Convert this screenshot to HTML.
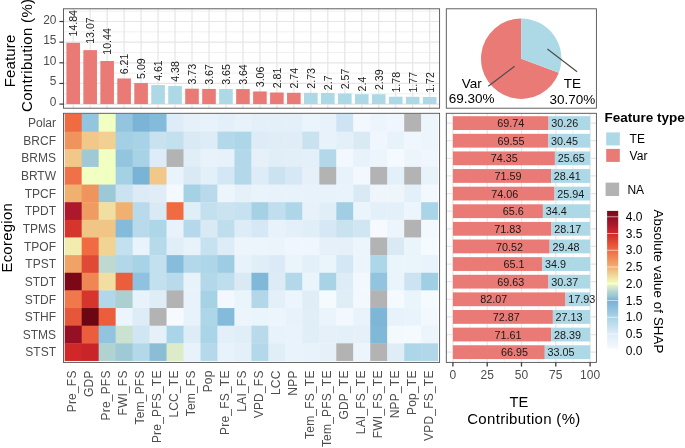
<!DOCTYPE html>
<html lang="en">
<head>
<meta charset="utf-8">
<title>Feature contribution by ecoregion</title>
<style>
html,body{margin:0;padding:0;background:#fff;}
body{width:685px;height:448px;overflow:hidden;font-family:"Liberation Sans", Arial, Helvetica, sans-serif;}
svg{display:block;}
</style>
</head>
<body>
<svg width="685" height="448" viewBox="0 0 685 448" font-family='"Liberation Sans", Arial, Helvetica, sans-serif'>
<rect width="685" height="448" fill="#ffffff"/>
<g id="barpanel">
<rect x="63.5" y="8.8" width="376.1" height="99.4" fill="#fff"/>
<line x1="63.5" x2="439.6" y1="93.77" y2="93.77" stroke="#e9e9e9" stroke-width="0.7"/>
<line x1="63.5" x2="439.6" y1="73.12" y2="73.12" stroke="#e9e9e9" stroke-width="0.7"/>
<line x1="63.5" x2="439.6" y1="52.47" y2="52.47" stroke="#e9e9e9" stroke-width="0.7"/>
<line x1="63.5" x2="439.6" y1="31.83" y2="31.83" stroke="#e9e9e9" stroke-width="0.7"/>
<line x1="63.5" x2="439.6" y1="11.17" y2="11.17" stroke="#e9e9e9" stroke-width="0.7"/>
<line x1="63.5" x2="439.6" y1="104.1" y2="104.1" stroke="#e6e6e6" stroke-width="1.2"/>
<line x1="63.5" x2="439.6" y1="83.45" y2="83.45" stroke="#e6e6e6" stroke-width="1.2"/>
<line x1="63.5" x2="439.6" y1="62.8" y2="62.8" stroke="#e6e6e6" stroke-width="1.2"/>
<line x1="63.5" x2="439.6" y1="42.15" y2="42.15" stroke="#e6e6e6" stroke-width="1.2"/>
<line x1="63.5" x2="439.6" y1="21.5" y2="21.5" stroke="#e6e6e6" stroke-width="1.2"/>
<line x1="73.19" x2="73.19" y1="8.8" y2="108.2" stroke="#e6e6e6" stroke-width="1.2"/>
<line x1="90.16" x2="90.16" y1="8.8" y2="108.2" stroke="#e6e6e6" stroke-width="1.2"/>
<line x1="107.14" x2="107.14" y1="8.8" y2="108.2" stroke="#e6e6e6" stroke-width="1.2"/>
<line x1="124.11" x2="124.11" y1="8.8" y2="108.2" stroke="#e6e6e6" stroke-width="1.2"/>
<line x1="141.09" x2="141.09" y1="8.8" y2="108.2" stroke="#e6e6e6" stroke-width="1.2"/>
<line x1="158.06" x2="158.06" y1="8.8" y2="108.2" stroke="#e6e6e6" stroke-width="1.2"/>
<line x1="175.04" x2="175.04" y1="8.8" y2="108.2" stroke="#e6e6e6" stroke-width="1.2"/>
<line x1="192.01" x2="192.01" y1="8.8" y2="108.2" stroke="#e6e6e6" stroke-width="1.2"/>
<line x1="208.99" x2="208.99" y1="8.8" y2="108.2" stroke="#e6e6e6" stroke-width="1.2"/>
<line x1="225.96" x2="225.96" y1="8.8" y2="108.2" stroke="#e6e6e6" stroke-width="1.2"/>
<line x1="242.94" x2="242.94" y1="8.8" y2="108.2" stroke="#e6e6e6" stroke-width="1.2"/>
<line x1="259.91" x2="259.91" y1="8.8" y2="108.2" stroke="#e6e6e6" stroke-width="1.2"/>
<line x1="276.89" x2="276.89" y1="8.8" y2="108.2" stroke="#e6e6e6" stroke-width="1.2"/>
<line x1="293.86" x2="293.86" y1="8.8" y2="108.2" stroke="#e6e6e6" stroke-width="1.2"/>
<line x1="310.84" x2="310.84" y1="8.8" y2="108.2" stroke="#e6e6e6" stroke-width="1.2"/>
<line x1="327.81" x2="327.81" y1="8.8" y2="108.2" stroke="#e6e6e6" stroke-width="1.2"/>
<line x1="344.79" x2="344.79" y1="8.8" y2="108.2" stroke="#e6e6e6" stroke-width="1.2"/>
<line x1="361.76" x2="361.76" y1="8.8" y2="108.2" stroke="#e6e6e6" stroke-width="1.2"/>
<line x1="378.74" x2="378.74" y1="8.8" y2="108.2" stroke="#e6e6e6" stroke-width="1.2"/>
<line x1="395.71" x2="395.71" y1="8.8" y2="108.2" stroke="#e6e6e6" stroke-width="1.2"/>
<line x1="412.69" x2="412.69" y1="8.8" y2="108.2" stroke="#e6e6e6" stroke-width="1.2"/>
<line x1="429.66" x2="429.66" y1="8.8" y2="108.2" stroke="#e6e6e6" stroke-width="1.2"/>
<rect x="66.39" y="42.81" width="13.6" height="61.29" fill="#ea7a75"/>
<rect x="83.36" y="50.12" width="13.6" height="53.98" fill="#ea7a75"/>
<rect x="100.34" y="60.98" width="13.6" height="43.12" fill="#ea7a75"/>
<rect x="117.31" y="78.45" width="13.6" height="25.65" fill="#ea7a75"/>
<rect x="134.29" y="83.08" width="13.6" height="21.02" fill="#ea7a75"/>
<rect x="151.26" y="85.06" width="13.6" height="19.04" fill="#add8e6"/>
<rect x="168.24" y="86.01" width="13.6" height="18.09" fill="#add8e6"/>
<rect x="185.21" y="88.7" width="13.6" height="15.4" fill="#ea7a75"/>
<rect x="202.19" y="88.94" width="13.6" height="15.16" fill="#ea7a75"/>
<rect x="219.16" y="89.03" width="13.6" height="15.07" fill="#add8e6"/>
<rect x="236.14" y="89.07" width="13.6" height="15.03" fill="#ea7a75"/>
<rect x="253.11" y="91.46" width="13.6" height="12.64" fill="#ea7a75"/>
<rect x="270.09" y="92.49" width="13.6" height="11.61" fill="#ea7a75"/>
<rect x="287.06" y="92.78" width="13.6" height="11.32" fill="#ea7a75"/>
<rect x="304.04" y="92.83" width="13.6" height="11.27" fill="#add8e6"/>
<rect x="321.01" y="92.95" width="13.6" height="11.15" fill="#add8e6"/>
<rect x="337.99" y="93.49" width="13.6" height="10.61" fill="#add8e6"/>
<rect x="354.96" y="94.19" width="13.6" height="9.91" fill="#add8e6"/>
<rect x="371.94" y="94.23" width="13.6" height="9.87" fill="#add8e6"/>
<rect x="388.91" y="96.75" width="13.6" height="7.35" fill="#add8e6"/>
<rect x="405.89" y="96.79" width="13.6" height="7.31" fill="#add8e6"/>
<rect x="422.86" y="97" width="13.6" height="7.1" fill="#add8e6"/>
<text transform="translate(77.39,36.51) rotate(-90)" font-size="10.6" fill="#1a1a1a">14.84</text>
<text transform="translate(94.36,43.82) rotate(-90)" font-size="10.6" fill="#1a1a1a">13.07</text>
<text transform="translate(111.34,54.68) rotate(-90)" font-size="10.6" fill="#1a1a1a">10.44</text>
<text transform="translate(128.31,74.25) rotate(-90)" font-size="10.6" fill="#1a1a1a">6.21</text>
<text transform="translate(145.29,78.88) rotate(-90)" font-size="10.6" fill="#1a1a1a">5.09</text>
<text transform="translate(162.26,80.86) rotate(-90)" font-size="10.6" fill="#1a1a1a">4.61</text>
<text transform="translate(179.24,81.81) rotate(-90)" font-size="10.6" fill="#1a1a1a">4.38</text>
<text transform="translate(196.21,84.5) rotate(-90)" font-size="10.6" fill="#1a1a1a">3.73</text>
<text transform="translate(213.19,84.74) rotate(-90)" font-size="10.6" fill="#1a1a1a">3.67</text>
<text transform="translate(230.16,84.83) rotate(-90)" font-size="10.6" fill="#1a1a1a">3.65</text>
<text transform="translate(247.14,84.87) rotate(-90)" font-size="10.6" fill="#1a1a1a">3.64</text>
<text transform="translate(264.11,87.26) rotate(-90)" font-size="10.6" fill="#1a1a1a">3.06</text>
<text transform="translate(281.09,88.29) rotate(-90)" font-size="10.6" fill="#1a1a1a">2.81</text>
<text transform="translate(298.06,88.58) rotate(-90)" font-size="10.6" fill="#1a1a1a">2.74</text>
<text transform="translate(315.04,88.63) rotate(-90)" font-size="10.6" fill="#1a1a1a">2.73</text>
<text transform="translate(332.01,90.15) rotate(-90)" font-size="10.6" fill="#1a1a1a">2.7</text>
<text transform="translate(348.99,89.29) rotate(-90)" font-size="10.6" fill="#1a1a1a">2.57</text>
<text transform="translate(365.96,91.39) rotate(-90)" font-size="10.6" fill="#1a1a1a">2.4</text>
<text transform="translate(382.94,90.03) rotate(-90)" font-size="10.6" fill="#1a1a1a">2.39</text>
<text transform="translate(399.91,92.55) rotate(-90)" font-size="10.6" fill="#1a1a1a">1.78</text>
<text transform="translate(416.89,92.59) rotate(-90)" font-size="10.6" fill="#1a1a1a">1.77</text>
<text transform="translate(433.86,92.8) rotate(-90)" font-size="10.6" fill="#1a1a1a">1.72</text>
<rect x="63.5" y="8.8" width="376.1" height="99.4" fill="none" stroke="#505050" stroke-width="0.9"/>
<line x1="59.4" x2="63.5" y1="104.1" y2="104.1" stroke="#3a3a3a" stroke-width="1.2"/>
<text x="56.4" y="106.1" font-size="11.9" fill="#4d4d4d" text-anchor="end">0</text>
<line x1="59.4" x2="63.5" y1="83.45" y2="83.45" stroke="#3a3a3a" stroke-width="1.2"/>
<text x="56.4" y="85.45" font-size="11.9" fill="#4d4d4d" text-anchor="end">5</text>
<line x1="59.4" x2="63.5" y1="62.8" y2="62.8" stroke="#3a3a3a" stroke-width="1.2"/>
<text x="56.4" y="64.8" font-size="11.9" fill="#4d4d4d" text-anchor="end">10</text>
<line x1="59.4" x2="63.5" y1="42.15" y2="42.15" stroke="#3a3a3a" stroke-width="1.2"/>
<text x="56.4" y="44.15" font-size="11.9" fill="#4d4d4d" text-anchor="end">15</text>
<line x1="59.4" x2="63.5" y1="21.5" y2="21.5" stroke="#3a3a3a" stroke-width="1.2"/>
<text x="56.4" y="23.5" font-size="11.9" fill="#4d4d4d" text-anchor="end">20</text>
<text transform="translate(14.7,87.2) rotate(-90)" font-size="15" fill="#000" textLength="52.5" lengthAdjust="spacing">Feature</text>
<text transform="translate(31.5,112) rotate(-90)" font-size="15" fill="#000" textLength="113.1" lengthAdjust="spacing">Contribution (%)</text>
</g>
<g id="heatmap">
<rect x="63.5" y="113.3" width="376.1" height="249.1" fill="#fff"/>
<g>
<rect x="64.7" y="114" width="17.38" height="18.04" fill="#f06a42"/>
<rect x="81.68" y="114" width="17.38" height="18.04" fill="#94c5df"/>
<rect x="98.65" y="114" width="17.38" height="18.04" fill="#f2ffc2"/>
<rect x="115.62" y="114" width="17.38" height="18.04" fill="#94c5df"/>
<rect x="132.6" y="114" width="17.38" height="18.04" fill="#7bb4d7"/>
<rect x="149.57" y="114" width="17.38" height="18.04" fill="#85bbda"/>
<rect x="166.55" y="114" width="17.38" height="18.04" fill="#deecf7"/>
<rect x="183.53" y="114" width="17.38" height="18.04" fill="#e6f0f9"/>
<rect x="200.5" y="114" width="17.38" height="18.04" fill="#e8f2fa"/>
<rect x="217.48" y="114" width="17.38" height="18.04" fill="#e3eff9"/>
<rect x="234.45" y="114" width="17.38" height="18.04" fill="#e8f2fa"/>
<rect x="251.43" y="114" width="17.38" height="18.04" fill="#e3eff9"/>
<rect x="268.4" y="114" width="17.38" height="18.04" fill="#e3eff9"/>
<rect x="285.38" y="114" width="17.38" height="18.04" fill="#e3eff9"/>
<rect x="302.35" y="114" width="17.38" height="18.04" fill="#eaf4fb"/>
<rect x="319.33" y="114" width="17.38" height="18.04" fill="#e8f2fa"/>
<rect x="336.3" y="114" width="17.38" height="18.04" fill="#cee4f2"/>
<rect x="353.28" y="114" width="17.38" height="18.04" fill="#f2f8fd"/>
<rect x="370.25" y="114" width="17.38" height="18.04" fill="#edf5fc"/>
<rect x="387.23" y="114" width="17.38" height="18.04" fill="#f0f6fd"/>
<rect x="404.2" y="114" width="17.38" height="18.04" fill="#b3b3b3"/>
<rect x="421.18" y="114" width="16.98" height="18.04" fill="#edf5fc"/>
<rect x="64.7" y="131.64" width="17.38" height="18.04" fill="#f0945e"/>
<rect x="81.68" y="131.64" width="17.38" height="18.04" fill="#f1c889"/>
<rect x="98.65" y="131.64" width="17.38" height="18.04" fill="#f1d091"/>
<rect x="115.62" y="131.64" width="17.38" height="18.04" fill="#a3d0e4"/>
<rect x="132.6" y="131.64" width="17.38" height="18.04" fill="#a8d3e6"/>
<rect x="149.57" y="131.64" width="17.38" height="18.04" fill="#c8e2f0"/>
<rect x="166.55" y="131.64" width="17.38" height="18.04" fill="#c3e0ee"/>
<rect x="183.53" y="131.64" width="17.38" height="18.04" fill="#d9eaf5"/>
<rect x="200.5" y="131.64" width="17.38" height="18.04" fill="#deecf7"/>
<rect x="217.48" y="131.64" width="17.38" height="18.04" fill="#b3d8e9"/>
<rect x="234.45" y="131.64" width="17.38" height="18.04" fill="#add6e8"/>
<rect x="251.43" y="131.64" width="17.38" height="18.04" fill="#deecf7"/>
<rect x="268.4" y="131.64" width="17.38" height="18.04" fill="#dfedf7"/>
<rect x="285.38" y="131.64" width="17.38" height="18.04" fill="#e0edf7"/>
<rect x="302.35" y="131.64" width="17.38" height="18.04" fill="#c8e2f0"/>
<rect x="319.33" y="131.64" width="17.38" height="18.04" fill="#e8f2fa"/>
<rect x="336.3" y="131.64" width="17.38" height="18.04" fill="#e3eff9"/>
<rect x="353.28" y="131.64" width="17.38" height="18.04" fill="#d9eaf5"/>
<rect x="370.25" y="131.64" width="17.38" height="18.04" fill="#f0f6fd"/>
<rect x="387.23" y="131.64" width="17.38" height="18.04" fill="#e8f2fa"/>
<rect x="404.2" y="131.64" width="17.38" height="18.04" fill="#f0f6fd"/>
<rect x="421.18" y="131.64" width="16.98" height="18.04" fill="#edf5fc"/>
<rect x="64.7" y="149.28" width="17.38" height="18.04" fill="#f1c889"/>
<rect x="81.68" y="149.28" width="17.38" height="18.04" fill="#9fc9d4"/>
<rect x="98.65" y="149.28" width="17.38" height="18.04" fill="#f2ffc2"/>
<rect x="115.62" y="149.28" width="17.38" height="18.04" fill="#94c5df"/>
<rect x="132.6" y="149.28" width="17.38" height="18.04" fill="#a8d3e6"/>
<rect x="149.57" y="149.28" width="17.38" height="18.04" fill="#deecf7"/>
<rect x="166.55" y="149.28" width="17.38" height="18.04" fill="#b3b3b3"/>
<rect x="183.53" y="149.28" width="17.38" height="18.04" fill="#e0eef8"/>
<rect x="200.5" y="149.28" width="17.38" height="18.04" fill="#e8f2fa"/>
<rect x="217.48" y="149.28" width="17.38" height="18.04" fill="#e6f1fa"/>
<rect x="234.45" y="149.28" width="17.38" height="18.04" fill="#b3d8e9"/>
<rect x="251.43" y="149.28" width="17.38" height="18.04" fill="#e6f0f9"/>
<rect x="268.4" y="149.28" width="17.38" height="18.04" fill="#e0eef8"/>
<rect x="285.38" y="149.28" width="17.38" height="18.04" fill="#e2eef8"/>
<rect x="302.35" y="149.28" width="17.38" height="18.04" fill="#e3eff9"/>
<rect x="319.33" y="149.28" width="17.38" height="18.04" fill="#b3d8e9"/>
<rect x="336.3" y="149.28" width="17.38" height="18.04" fill="#f2f8fd"/>
<rect x="353.28" y="149.28" width="17.38" height="18.04" fill="#e8f2fa"/>
<rect x="370.25" y="149.28" width="17.38" height="18.04" fill="#edf5fc"/>
<rect x="387.23" y="149.28" width="17.38" height="18.04" fill="#f4fafe"/>
<rect x="404.2" y="149.28" width="17.38" height="18.04" fill="#edf5fc"/>
<rect x="421.18" y="149.28" width="16.98" height="18.04" fill="#f0f6fd"/>
<rect x="64.7" y="166.92" width="17.38" height="18.04" fill="#f07147"/>
<rect x="81.68" y="166.92" width="17.38" height="18.04" fill="#f2ffc2"/>
<rect x="98.65" y="166.92" width="17.38" height="18.04" fill="#f2ffc2"/>
<rect x="115.62" y="166.92" width="17.38" height="18.04" fill="#a5d1e5"/>
<rect x="132.6" y="166.92" width="17.38" height="18.04" fill="#79b3d6"/>
<rect x="149.57" y="166.92" width="17.38" height="18.04" fill="#f1c889"/>
<rect x="166.55" y="166.92" width="17.38" height="18.04" fill="#e9f3fb"/>
<rect x="183.53" y="166.92" width="17.38" height="18.04" fill="#d9eaf5"/>
<rect x="200.5" y="166.92" width="17.38" height="18.04" fill="#e3eff9"/>
<rect x="217.48" y="166.92" width="17.38" height="18.04" fill="#d3e7f4"/>
<rect x="234.45" y="166.92" width="17.38" height="18.04" fill="#b3d8e9"/>
<rect x="251.43" y="166.92" width="17.38" height="18.04" fill="#deecf7"/>
<rect x="268.4" y="166.92" width="17.38" height="18.04" fill="#cbe3f1"/>
<rect x="285.38" y="166.92" width="17.38" height="18.04" fill="#d6e8f5"/>
<rect x="302.35" y="166.92" width="17.38" height="18.04" fill="#e6f0f9"/>
<rect x="319.33" y="166.92" width="17.38" height="18.04" fill="#b3b3b3"/>
<rect x="336.3" y="166.92" width="17.38" height="18.04" fill="#e8f2fa"/>
<rect x="353.28" y="166.92" width="17.38" height="18.04" fill="#f2f8fd"/>
<rect x="370.25" y="166.92" width="17.38" height="18.04" fill="#b3b3b3"/>
<rect x="387.23" y="166.92" width="17.38" height="18.04" fill="#e3eff9"/>
<rect x="404.2" y="166.92" width="17.38" height="18.04" fill="#b3b3b3"/>
<rect x="421.18" y="166.92" width="16.98" height="18.04" fill="#e8f2fa"/>
<rect x="64.7" y="184.56" width="17.38" height="18.04" fill="#f0b070"/>
<rect x="81.68" y="184.56" width="17.38" height="18.04" fill="#f0945e"/>
<rect x="98.65" y="184.56" width="17.38" height="18.04" fill="#9dc8d5"/>
<rect x="115.62" y="184.56" width="17.38" height="18.04" fill="#cbe3f1"/>
<rect x="132.6" y="184.56" width="17.38" height="18.04" fill="#dcebf6"/>
<rect x="149.57" y="184.56" width="17.38" height="18.04" fill="#e0edf7"/>
<rect x="166.55" y="184.56" width="17.38" height="18.04" fill="#f3f9fe"/>
<rect x="183.53" y="184.56" width="17.38" height="18.04" fill="#a5d1e5"/>
<rect x="200.5" y="184.56" width="17.38" height="18.04" fill="#b8daeb"/>
<rect x="217.48" y="184.56" width="17.38" height="18.04" fill="#edf5fc"/>
<rect x="234.45" y="184.56" width="17.38" height="18.04" fill="#e6f0f9"/>
<rect x="251.43" y="184.56" width="17.38" height="18.04" fill="#e9f3fb"/>
<rect x="268.4" y="184.56" width="17.38" height="18.04" fill="#e8f2fa"/>
<rect x="285.38" y="184.56" width="17.38" height="18.04" fill="#e8f2fa"/>
<rect x="302.35" y="184.56" width="17.38" height="18.04" fill="#e8f2fa"/>
<rect x="319.33" y="184.56" width="17.38" height="18.04" fill="#e8f2fa"/>
<rect x="336.3" y="184.56" width="17.38" height="18.04" fill="#e9f3fb"/>
<rect x="353.28" y="184.56" width="17.38" height="18.04" fill="#d9eaf5"/>
<rect x="370.25" y="184.56" width="17.38" height="18.04" fill="#eef6fc"/>
<rect x="387.23" y="184.56" width="17.38" height="18.04" fill="#eef6fc"/>
<rect x="404.2" y="184.56" width="17.38" height="18.04" fill="#e3eff9"/>
<rect x="421.18" y="184.56" width="16.98" height="18.04" fill="#f2f8fd"/>
<rect x="64.7" y="202.2" width="17.38" height="18.04" fill="#ad182c"/>
<rect x="81.68" y="202.2" width="17.38" height="18.04" fill="#f09b62"/>
<rect x="98.65" y="202.2" width="17.38" height="18.04" fill="#f1dfa1"/>
<rect x="115.62" y="202.2" width="17.38" height="18.04" fill="#f0b070"/>
<rect x="132.6" y="202.2" width="17.38" height="18.04" fill="#b8daeb"/>
<rect x="149.57" y="202.2" width="17.38" height="18.04" fill="#d9eaf5"/>
<rect x="166.55" y="202.2" width="17.38" height="18.04" fill="#f06a42"/>
<rect x="183.53" y="202.2" width="17.38" height="18.04" fill="#e0eef8"/>
<rect x="200.5" y="202.2" width="17.38" height="18.04" fill="#c3e0ee"/>
<rect x="217.48" y="202.2" width="17.38" height="18.04" fill="#cbe3f1"/>
<rect x="234.45" y="202.2" width="17.38" height="18.04" fill="#c6e1f0"/>
<rect x="251.43" y="202.2" width="17.38" height="18.04" fill="#a5d1e5"/>
<rect x="268.4" y="202.2" width="17.38" height="18.04" fill="#c1deee"/>
<rect x="285.38" y="202.2" width="17.38" height="18.04" fill="#add6e8"/>
<rect x="302.35" y="202.2" width="17.38" height="18.04" fill="#e7f1fa"/>
<rect x="319.33" y="202.2" width="17.38" height="18.04" fill="#e0eef8"/>
<rect x="336.3" y="202.2" width="17.38" height="18.04" fill="#a1cee4"/>
<rect x="353.28" y="202.2" width="17.38" height="18.04" fill="#eaf4fb"/>
<rect x="370.25" y="202.2" width="17.38" height="18.04" fill="#e3eff9"/>
<rect x="387.23" y="202.2" width="17.38" height="18.04" fill="#e4f0f9"/>
<rect x="404.2" y="202.2" width="17.38" height="18.04" fill="#edf5fc"/>
<rect x="421.18" y="202.2" width="16.98" height="18.04" fill="#aad4e7"/>
<rect x="64.7" y="219.84" width="17.38" height="18.04" fill="#d6352d"/>
<rect x="81.68" y="219.84" width="17.38" height="18.04" fill="#f1c585"/>
<rect x="98.65" y="219.84" width="17.38" height="18.04" fill="#f1c585"/>
<rect x="115.62" y="219.84" width="17.38" height="18.04" fill="#85bbda"/>
<rect x="132.6" y="219.84" width="17.38" height="18.04" fill="#b8daeb"/>
<rect x="149.57" y="219.84" width="17.38" height="18.04" fill="#add6e8"/>
<rect x="166.55" y="219.84" width="17.38" height="18.04" fill="#e8f2fa"/>
<rect x="183.53" y="219.84" width="17.38" height="18.04" fill="#b5d9ea"/>
<rect x="200.5" y="219.84" width="17.38" height="18.04" fill="#d9eaf5"/>
<rect x="217.48" y="219.84" width="17.38" height="18.04" fill="#bedded"/>
<rect x="234.45" y="219.84" width="17.38" height="18.04" fill="#deecf7"/>
<rect x="251.43" y="219.84" width="17.38" height="18.04" fill="#d6e8f5"/>
<rect x="268.4" y="219.84" width="17.38" height="18.04" fill="#e8f2fa"/>
<rect x="285.38" y="219.84" width="17.38" height="18.04" fill="#e3eff9"/>
<rect x="302.35" y="219.84" width="17.38" height="18.04" fill="#e0eef8"/>
<rect x="319.33" y="219.84" width="17.38" height="18.04" fill="#d6e8f5"/>
<rect x="336.3" y="219.84" width="17.38" height="18.04" fill="#c8e2f0"/>
<rect x="353.28" y="219.84" width="17.38" height="18.04" fill="#d0e6f3"/>
<rect x="370.25" y="219.84" width="17.38" height="18.04" fill="#f6faff"/>
<rect x="387.23" y="219.84" width="17.38" height="18.04" fill="#edf5fc"/>
<rect x="404.2" y="219.84" width="17.38" height="18.04" fill="#b3b3b3"/>
<rect x="421.18" y="219.84" width="16.98" height="18.04" fill="#f2f8fd"/>
<rect x="64.7" y="237.48" width="17.38" height="18.04" fill="#f2ecae"/>
<rect x="81.68" y="237.48" width="17.38" height="18.04" fill="#f06a42"/>
<rect x="98.65" y="237.48" width="17.38" height="18.04" fill="#f1d394"/>
<rect x="115.62" y="237.48" width="17.38" height="18.04" fill="#c3e0ee"/>
<rect x="132.6" y="237.48" width="17.38" height="18.04" fill="#e9f3fb"/>
<rect x="149.57" y="237.48" width="17.38" height="18.04" fill="#b6daea"/>
<rect x="166.55" y="237.48" width="17.38" height="18.04" fill="#e0eef8"/>
<rect x="183.53" y="237.48" width="17.38" height="18.04" fill="#e8f2fa"/>
<rect x="200.5" y="237.48" width="17.38" height="18.04" fill="#c6e1f0"/>
<rect x="217.48" y="237.48" width="17.38" height="18.04" fill="#deecf7"/>
<rect x="234.45" y="237.48" width="17.38" height="18.04" fill="#edf5fc"/>
<rect x="251.43" y="237.48" width="17.38" height="18.04" fill="#edf5fc"/>
<rect x="268.4" y="237.48" width="17.38" height="18.04" fill="#ecf4fb"/>
<rect x="285.38" y="237.48" width="17.38" height="18.04" fill="#f0f6fd"/>
<rect x="302.35" y="237.48" width="17.38" height="18.04" fill="#f0f6fd"/>
<rect x="319.33" y="237.48" width="17.38" height="18.04" fill="#e6f0f9"/>
<rect x="336.3" y="237.48" width="17.38" height="18.04" fill="#e6f0f9"/>
<rect x="353.28" y="237.48" width="17.38" height="18.04" fill="#edf5fc"/>
<rect x="370.25" y="237.48" width="17.38" height="18.04" fill="#b3b3b3"/>
<rect x="387.23" y="237.48" width="17.38" height="18.04" fill="#d9eaf5"/>
<rect x="404.2" y="237.48" width="17.38" height="18.04" fill="#eaf4fb"/>
<rect x="421.18" y="237.48" width="16.98" height="18.04" fill="#f4fafe"/>
<rect x="64.7" y="255.12" width="17.38" height="18.04" fill="#f0a267"/>
<rect x="81.68" y="255.12" width="17.38" height="18.04" fill="#e04935"/>
<rect x="98.65" y="255.12" width="17.38" height="18.04" fill="#bedad0"/>
<rect x="115.62" y="255.12" width="17.38" height="18.04" fill="#b1d7e9"/>
<rect x="132.6" y="255.12" width="17.38" height="18.04" fill="#a8d3e6"/>
<rect x="149.57" y="255.12" width="17.38" height="18.04" fill="#c3e0ee"/>
<rect x="166.55" y="255.12" width="17.38" height="18.04" fill="#87bddb"/>
<rect x="183.53" y="255.12" width="17.38" height="18.04" fill="#b3d8e9"/>
<rect x="200.5" y="255.12" width="17.38" height="18.04" fill="#add6e8"/>
<rect x="217.48" y="255.12" width="17.38" height="18.04" fill="#9ecce3"/>
<rect x="234.45" y="255.12" width="17.38" height="18.04" fill="#e8f2fa"/>
<rect x="251.43" y="255.12" width="17.38" height="18.04" fill="#e0eef8"/>
<rect x="268.4" y="255.12" width="17.38" height="18.04" fill="#dbeaf6"/>
<rect x="285.38" y="255.12" width="17.38" height="18.04" fill="#eaf4fb"/>
<rect x="302.35" y="255.12" width="17.38" height="18.04" fill="#e3eff9"/>
<rect x="319.33" y="255.12" width="17.38" height="18.04" fill="#eaf4fb"/>
<rect x="336.3" y="255.12" width="17.38" height="18.04" fill="#d3e7f4"/>
<rect x="353.28" y="255.12" width="17.38" height="18.04" fill="#edf5fc"/>
<rect x="370.25" y="255.12" width="17.38" height="18.04" fill="#add6e8"/>
<rect x="387.23" y="255.12" width="17.38" height="18.04" fill="#eaf4fb"/>
<rect x="404.2" y="255.12" width="17.38" height="18.04" fill="#eaf4fb"/>
<rect x="421.18" y="255.12" width="16.98" height="18.04" fill="#e9f3fb"/>
<rect x="64.7" y="272.76" width="17.38" height="18.04" fill="#7a0816"/>
<rect x="81.68" y="272.76" width="17.38" height="18.04" fill="#f08654"/>
<rect x="98.65" y="272.76" width="17.38" height="18.04" fill="#f1dfa1"/>
<rect x="115.62" y="272.76" width="17.38" height="18.04" fill="#ea5d3d"/>
<rect x="132.6" y="272.76" width="17.38" height="18.04" fill="#8fc2de"/>
<rect x="149.57" y="272.76" width="17.38" height="18.04" fill="#c3e0ee"/>
<rect x="166.55" y="272.76" width="17.38" height="18.04" fill="#b8daeb"/>
<rect x="183.53" y="272.76" width="17.38" height="18.04" fill="#e8f2fa"/>
<rect x="200.5" y="272.76" width="17.38" height="18.04" fill="#b3d8e9"/>
<rect x="217.48" y="272.76" width="17.38" height="18.04" fill="#bedded"/>
<rect x="234.45" y="272.76" width="17.38" height="18.04" fill="#d9eaf5"/>
<rect x="251.43" y="272.76" width="17.38" height="18.04" fill="#80b8d8"/>
<rect x="268.4" y="272.76" width="17.38" height="18.04" fill="#dcebf6"/>
<rect x="285.38" y="272.76" width="17.38" height="18.04" fill="#b3d8e9"/>
<rect x="302.35" y="272.76" width="17.38" height="18.04" fill="#eaf4fb"/>
<rect x="319.33" y="272.76" width="17.38" height="18.04" fill="#a8d3e6"/>
<rect x="336.3" y="272.76" width="17.38" height="18.04" fill="#deecf7"/>
<rect x="353.28" y="272.76" width="17.38" height="18.04" fill="#f2f8fd"/>
<rect x="370.25" y="272.76" width="17.38" height="18.04" fill="#92c4df"/>
<rect x="387.23" y="272.76" width="17.38" height="18.04" fill="#eaf4fb"/>
<rect x="404.2" y="272.76" width="17.38" height="18.04" fill="#cce4f1"/>
<rect x="421.18" y="272.76" width="16.98" height="18.04" fill="#a0cee3"/>
<rect x="64.7" y="290.4" width="17.38" height="18.04" fill="#f0784b"/>
<rect x="81.68" y="290.4" width="17.38" height="18.04" fill="#d6352d"/>
<rect x="98.65" y="290.4" width="17.38" height="18.04" fill="#b1d7e9"/>
<rect x="115.62" y="290.4" width="17.38" height="18.04" fill="#acd0d1"/>
<rect x="132.6" y="290.4" width="17.38" height="18.04" fill="#e8f2fa"/>
<rect x="149.57" y="290.4" width="17.38" height="18.04" fill="#dfedf7"/>
<rect x="166.55" y="290.4" width="17.38" height="18.04" fill="#b3b3b3"/>
<rect x="183.53" y="290.4" width="17.38" height="18.04" fill="#e8f2fa"/>
<rect x="200.5" y="290.4" width="17.38" height="18.04" fill="#a6d2e5"/>
<rect x="217.48" y="290.4" width="17.38" height="18.04" fill="#f2f8fd"/>
<rect x="234.45" y="290.4" width="17.38" height="18.04" fill="#eaf4fb"/>
<rect x="251.43" y="290.4" width="17.38" height="18.04" fill="#b1d7e9"/>
<rect x="268.4" y="290.4" width="17.38" height="18.04" fill="#e3eff9"/>
<rect x="285.38" y="290.4" width="17.38" height="18.04" fill="#edf5fc"/>
<rect x="302.35" y="290.4" width="17.38" height="18.04" fill="#dfedf7"/>
<rect x="319.33" y="290.4" width="17.38" height="18.04" fill="#f4fafe"/>
<rect x="336.3" y="290.4" width="17.38" height="18.04" fill="#dfedf7"/>
<rect x="353.28" y="290.4" width="17.38" height="18.04" fill="#f2f8fd"/>
<rect x="370.25" y="290.4" width="17.38" height="18.04" fill="#b3b3b3"/>
<rect x="387.23" y="290.4" width="17.38" height="18.04" fill="#f4fafe"/>
<rect x="404.2" y="290.4" width="17.38" height="18.04" fill="#eaf4fb"/>
<rect x="421.18" y="290.4" width="16.98" height="18.04" fill="#f4fafe"/>
<rect x="64.7" y="308.04" width="17.38" height="18.04" fill="#e6563a"/>
<rect x="81.68" y="308.04" width="17.38" height="18.04" fill="#6c0612"/>
<rect x="98.65" y="308.04" width="17.38" height="18.04" fill="#ea5d3d"/>
<rect x="115.62" y="308.04" width="17.38" height="18.04" fill="#edf5fc"/>
<rect x="132.6" y="308.04" width="17.38" height="18.04" fill="#deecf7"/>
<rect x="149.57" y="308.04" width="17.38" height="18.04" fill="#b3b3b3"/>
<rect x="166.55" y="308.04" width="17.38" height="18.04" fill="#f6faff"/>
<rect x="183.53" y="308.04" width="17.38" height="18.04" fill="#e8f2fa"/>
<rect x="200.5" y="308.04" width="17.38" height="18.04" fill="#add6e8"/>
<rect x="217.48" y="308.04" width="17.38" height="18.04" fill="#85bbda"/>
<rect x="234.45" y="308.04" width="17.38" height="18.04" fill="#edf5fc"/>
<rect x="251.43" y="308.04" width="17.38" height="18.04" fill="#eaf4fb"/>
<rect x="268.4" y="308.04" width="17.38" height="18.04" fill="#edf5fc"/>
<rect x="285.38" y="308.04" width="17.38" height="18.04" fill="#e8f2fa"/>
<rect x="302.35" y="308.04" width="17.38" height="18.04" fill="#e0eef8"/>
<rect x="319.33" y="308.04" width="17.38" height="18.04" fill="#eaf4fb"/>
<rect x="336.3" y="308.04" width="17.38" height="18.04" fill="#f2f8fd"/>
<rect x="353.28" y="308.04" width="17.38" height="18.04" fill="#e9f3fb"/>
<rect x="370.25" y="308.04" width="17.38" height="18.04" fill="#7eb6d8"/>
<rect x="387.23" y="308.04" width="17.38" height="18.04" fill="#e8f2fa"/>
<rect x="404.2" y="308.04" width="17.38" height="18.04" fill="#e9f3fb"/>
<rect x="421.18" y="308.04" width="16.98" height="18.04" fill="#f2f8fd"/>
<rect x="64.7" y="325.68" width="17.38" height="18.04" fill="#951024"/>
<rect x="81.68" y="325.68" width="17.38" height="18.04" fill="#ea5d3d"/>
<rect x="98.65" y="325.68" width="17.38" height="18.04" fill="#92c4df"/>
<rect x="115.62" y="325.68" width="17.38" height="18.04" fill="#cce2d0"/>
<rect x="132.6" y="325.68" width="17.38" height="18.04" fill="#d0e6f3"/>
<rect x="149.57" y="325.68" width="17.38" height="18.04" fill="#e6f0f9"/>
<rect x="166.55" y="325.68" width="17.38" height="18.04" fill="#aad4e7"/>
<rect x="183.53" y="325.68" width="17.38" height="18.04" fill="#deecf7"/>
<rect x="200.5" y="325.68" width="17.38" height="18.04" fill="#aad4e7"/>
<rect x="217.48" y="325.68" width="17.38" height="18.04" fill="#e3eff9"/>
<rect x="234.45" y="325.68" width="17.38" height="18.04" fill="#e0eef8"/>
<rect x="251.43" y="325.68" width="17.38" height="18.04" fill="#b8daeb"/>
<rect x="268.4" y="325.68" width="17.38" height="18.04" fill="#e8f2fa"/>
<rect x="285.38" y="325.68" width="17.38" height="18.04" fill="#e9f3fb"/>
<rect x="302.35" y="325.68" width="17.38" height="18.04" fill="#e0eef8"/>
<rect x="319.33" y="325.68" width="17.38" height="18.04" fill="#e6f0f9"/>
<rect x="336.3" y="325.68" width="17.38" height="18.04" fill="#e3eff9"/>
<rect x="353.28" y="325.68" width="17.38" height="18.04" fill="#e6f0f9"/>
<rect x="370.25" y="325.68" width="17.38" height="18.04" fill="#80b8d8"/>
<rect x="387.23" y="325.68" width="17.38" height="18.04" fill="#f4f9fe"/>
<rect x="404.2" y="325.68" width="17.38" height="18.04" fill="#f4fafe"/>
<rect x="421.18" y="325.68" width="16.98" height="18.04" fill="#edf5fc"/>
<rect x="64.7" y="343.32" width="17.38" height="17.64" fill="#d02828"/>
<rect x="81.68" y="343.32" width="17.38" height="17.64" fill="#c82429"/>
<rect x="98.65" y="343.32" width="17.38" height="17.64" fill="#b0d2d0"/>
<rect x="115.62" y="343.32" width="17.38" height="17.64" fill="#9fc9d4"/>
<rect x="132.6" y="343.32" width="17.38" height="17.64" fill="#b3d8e9"/>
<rect x="149.57" y="343.32" width="17.38" height="17.64" fill="#8bbdd5"/>
<rect x="166.55" y="343.32" width="17.38" height="17.64" fill="#dcecc8"/>
<rect x="183.53" y="343.32" width="17.38" height="17.64" fill="#e8f2fa"/>
<rect x="200.5" y="343.32" width="17.38" height="17.64" fill="#b5d9ea"/>
<rect x="217.48" y="343.32" width="17.38" height="17.64" fill="#e8f2fa"/>
<rect x="234.45" y="343.32" width="17.38" height="17.64" fill="#e3eff9"/>
<rect x="251.43" y="343.32" width="17.38" height="17.64" fill="#b3d8e9"/>
<rect x="268.4" y="343.32" width="17.38" height="17.64" fill="#e0eef8"/>
<rect x="285.38" y="343.32" width="17.38" height="17.64" fill="#e9f3fb"/>
<rect x="302.35" y="343.32" width="17.38" height="17.64" fill="#e8f2fa"/>
<rect x="319.33" y="343.32" width="17.38" height="17.64" fill="#e6f0f9"/>
<rect x="336.3" y="343.32" width="17.38" height="17.64" fill="#b3b3b3"/>
<rect x="353.28" y="343.32" width="17.38" height="17.64" fill="#edf5fc"/>
<rect x="370.25" y="343.32" width="17.38" height="17.64" fill="#b3b3b3"/>
<rect x="387.23" y="343.32" width="17.38" height="17.64" fill="#dfedf7"/>
<rect x="404.2" y="343.32" width="17.38" height="17.64" fill="#add6e8"/>
<rect x="421.18" y="343.32" width="16.98" height="17.64" fill="#b1d7e9"/>
</g>
<rect x="63.5" y="113.3" width="376.1" height="249.1" fill="none" stroke="#505050" stroke-width="0.9"/>
<text x="56" y="127.12" font-size="12" fill="#4d4d4d" text-anchor="end">Polar</text>
<text x="56" y="144.76" font-size="12" fill="#4d4d4d" text-anchor="end">BRCF</text>
<text x="56" y="162.4" font-size="12" fill="#4d4d4d" text-anchor="end">BRMS</text>
<text x="56" y="180.04" font-size="12" fill="#4d4d4d" text-anchor="end">BRTW</text>
<text x="56" y="197.68" font-size="12" fill="#4d4d4d" text-anchor="end">TPCF</text>
<text x="56" y="215.32" font-size="12" fill="#4d4d4d" text-anchor="end">TPDT</text>
<text x="56" y="232.96" font-size="12" fill="#4d4d4d" text-anchor="end">TPMS</text>
<text x="56" y="250.6" font-size="12" fill="#4d4d4d" text-anchor="end">TPOF</text>
<text x="56" y="268.24" font-size="12" fill="#4d4d4d" text-anchor="end">TPST</text>
<text x="56" y="285.88" font-size="12" fill="#4d4d4d" text-anchor="end">STDT</text>
<text x="56" y="303.52" font-size="12" fill="#4d4d4d" text-anchor="end">STDF</text>
<text x="56" y="321.16" font-size="12" fill="#4d4d4d" text-anchor="end">STHF</text>
<text x="56" y="338.8" font-size="12" fill="#4d4d4d" text-anchor="end">STMS</text>
<text x="56" y="356.44" font-size="12" fill="#4d4d4d" text-anchor="end">STST</text>
<text transform="translate(76.09,370.4) rotate(-90)" font-size="12" letter-spacing="0.2" fill="#4d4d4d" text-anchor="end">Pre_FS</text>
<text transform="translate(93.06,370.4) rotate(-90)" font-size="12" letter-spacing="0.2" fill="#4d4d4d" text-anchor="end">GDP</text>
<text transform="translate(110.04,370.4) rotate(-90)" font-size="12" letter-spacing="0.2" fill="#4d4d4d" text-anchor="end">Pre_PFS</text>
<text transform="translate(127.01,370.4) rotate(-90)" font-size="12" letter-spacing="0.2" fill="#4d4d4d" text-anchor="end">FWI_FS</text>
<text transform="translate(143.99,370.4) rotate(-90)" font-size="12" letter-spacing="0.2" fill="#4d4d4d" text-anchor="end">Tem_PFS</text>
<text transform="translate(160.96,370.4) rotate(-90)" font-size="12" letter-spacing="0.2" fill="#4d4d4d" text-anchor="end">Pre_PFS_TE</text>
<text transform="translate(177.94,370.4) rotate(-90)" font-size="12" letter-spacing="0.2" fill="#4d4d4d" text-anchor="end">LCC_TE</text>
<text transform="translate(194.91,370.4) rotate(-90)" font-size="12" letter-spacing="0.2" fill="#4d4d4d" text-anchor="end">Tem_FS</text>
<text transform="translate(211.89,370.4) rotate(-90)" font-size="12" letter-spacing="0.2" fill="#4d4d4d" text-anchor="end">Pop</text>
<text transform="translate(228.86,370.4) rotate(-90)" font-size="12" letter-spacing="0.2" fill="#4d4d4d" text-anchor="end">Pre_FS_TE</text>
<text transform="translate(245.84,370.4) rotate(-90)" font-size="12" letter-spacing="0.2" fill="#4d4d4d" text-anchor="end">LAI_FS</text>
<text transform="translate(262.81,370.4) rotate(-90)" font-size="12" letter-spacing="0.2" fill="#4d4d4d" text-anchor="end">VPD_FS</text>
<text transform="translate(279.79,370.4) rotate(-90)" font-size="12" letter-spacing="0.2" fill="#4d4d4d" text-anchor="end">LCC</text>
<text transform="translate(296.76,370.4) rotate(-90)" font-size="12" letter-spacing="0.2" fill="#4d4d4d" text-anchor="end">NPP</text>
<text transform="translate(313.74,370.4) rotate(-90)" font-size="12" letter-spacing="0.2" fill="#4d4d4d" text-anchor="end">Tem_FS_TE</text>
<text transform="translate(330.71,370.4) rotate(-90)" font-size="12" letter-spacing="0.2" fill="#4d4d4d" text-anchor="end">Tem_PFS_TE</text>
<text transform="translate(347.69,370.4) rotate(-90)" font-size="12" letter-spacing="0.2" fill="#4d4d4d" text-anchor="end">GDP_TE</text>
<text transform="translate(364.66,370.4) rotate(-90)" font-size="12" letter-spacing="0.2" fill="#4d4d4d" text-anchor="end">LAI_FS_TE</text>
<text transform="translate(381.64,370.4) rotate(-90)" font-size="12" letter-spacing="0.2" fill="#4d4d4d" text-anchor="end">FWI_FS_TE</text>
<text transform="translate(398.61,370.4) rotate(-90)" font-size="12" letter-spacing="0.2" fill="#4d4d4d" text-anchor="end">NPP_TE</text>
<text transform="translate(415.59,370.4) rotate(-90)" font-size="12" letter-spacing="0.2" fill="#4d4d4d" text-anchor="end">Pop_TE</text>
<text transform="translate(432.56,370.4) rotate(-90)" font-size="12" letter-spacing="0.2" fill="#4d4d4d" text-anchor="end">VPD_FS_TE</text>
<text transform="translate(12.4,272.6) rotate(-90)" font-size="15" fill="#000" textLength="69.4" lengthAdjust="spacing">Ecoregion</text>
</g>
<g id="pie">
<rect x="446.3" y="8.8" width="150.1" height="99.4" fill="#fff" stroke="#505050" stroke-width="0.9"/>
<path d="M521.2,58.7 L558.85,72.79 A40.2,40.2 0 1 1 521.2,18.5 Z" fill="#ea7a75"/>
<path d="M521.2,58.7 L521.2,18.5 A40.2,40.2 0 0 1 558.85,72.79 Z" fill="#add8e6"/>
<line x1="547.4" y1="48.9" x2="577.1" y2="71.7" stroke="#4d4d4d" stroke-width="1.2"/>
<line x1="514.6" y1="66.2" x2="488.3" y2="86.2" stroke="#4d4d4d" stroke-width="1.2"/>
<text x="471.7" y="87.5" font-size="13.5" fill="#000" text-anchor="middle">Var</text>
<text x="471.7" y="102.7" font-size="13.5" fill="#000" text-anchor="middle">69.30%</text>
<text x="572.4" y="88" font-size="13.5" fill="#000" text-anchor="middle">TE</text>
<text x="572.4" y="103.5" font-size="13.5" fill="#000" text-anchor="middle">30.70%</text>
</g>
<g id="stack">
<rect x="446.3" y="113.3" width="150.1" height="249.1" fill="#fff"/>
<line x1="470.05" x2="470.05" y1="113.3" y2="362.4" stroke="#e9e9e9" stroke-width="0.7"/>
<line x1="504.35" x2="504.35" y1="113.3" y2="362.4" stroke="#e9e9e9" stroke-width="0.7"/>
<line x1="538.65" x2="538.65" y1="113.3" y2="362.4" stroke="#e9e9e9" stroke-width="0.7"/>
<line x1="572.95" x2="572.95" y1="113.3" y2="362.4" stroke="#e9e9e9" stroke-width="0.7"/>
<line x1="452.9" x2="452.9" y1="113.3" y2="362.4" stroke="#e6e6e6" stroke-width="1.2"/>
<line x1="487.2" x2="487.2" y1="113.3" y2="362.4" stroke="#e6e6e6" stroke-width="1.2"/>
<line x1="521.5" x2="521.5" y1="113.3" y2="362.4" stroke="#e6e6e6" stroke-width="1.2"/>
<line x1="555.8" x2="555.8" y1="113.3" y2="362.4" stroke="#e6e6e6" stroke-width="1.2"/>
<line x1="590.1" x2="590.1" y1="113.3" y2="362.4" stroke="#e6e6e6" stroke-width="1.2"/>
<line x1="446.3" x2="596.4" y1="123.1" y2="123.1" stroke="#e6e6e6" stroke-width="1.2"/>
<line x1="446.3" x2="596.4" y1="140.72" y2="140.72" stroke="#e6e6e6" stroke-width="1.2"/>
<line x1="446.3" x2="596.4" y1="158.34" y2="158.34" stroke="#e6e6e6" stroke-width="1.2"/>
<line x1="446.3" x2="596.4" y1="175.96" y2="175.96" stroke="#e6e6e6" stroke-width="1.2"/>
<line x1="446.3" x2="596.4" y1="193.58" y2="193.58" stroke="#e6e6e6" stroke-width="1.2"/>
<line x1="446.3" x2="596.4" y1="211.2" y2="211.2" stroke="#e6e6e6" stroke-width="1.2"/>
<line x1="446.3" x2="596.4" y1="228.82" y2="228.82" stroke="#e6e6e6" stroke-width="1.2"/>
<line x1="446.3" x2="596.4" y1="246.44" y2="246.44" stroke="#e6e6e6" stroke-width="1.2"/>
<line x1="446.3" x2="596.4" y1="264.06" y2="264.06" stroke="#e6e6e6" stroke-width="1.2"/>
<line x1="446.3" x2="596.4" y1="281.68" y2="281.68" stroke="#e6e6e6" stroke-width="1.2"/>
<line x1="446.3" x2="596.4" y1="299.3" y2="299.3" stroke="#e6e6e6" stroke-width="1.2"/>
<line x1="446.3" x2="596.4" y1="316.92" y2="316.92" stroke="#e6e6e6" stroke-width="1.2"/>
<line x1="446.3" x2="596.4" y1="334.54" y2="334.54" stroke="#e6e6e6" stroke-width="1.2"/>
<line x1="446.3" x2="596.4" y1="352.16" y2="352.16" stroke="#e6e6e6" stroke-width="1.2"/>
<rect x="452.9" y="116.2" width="95.68" height="13.8" fill="#ea7a75"/>
<rect x="548.58" y="116.2" width="41.52" height="13.8" fill="#add8e6"/>
<rect x="452.9" y="133.82" width="95.42" height="13.8" fill="#ea7a75"/>
<rect x="548.32" y="133.82" width="41.78" height="13.8" fill="#add8e6"/>
<rect x="452.9" y="151.44" width="102.01" height="13.8" fill="#ea7a75"/>
<rect x="554.91" y="151.44" width="35.19" height="13.8" fill="#add8e6"/>
<rect x="452.9" y="169.06" width="98.22" height="13.8" fill="#ea7a75"/>
<rect x="551.12" y="169.06" width="38.98" height="13.8" fill="#add8e6"/>
<rect x="452.9" y="186.68" width="101.61" height="13.8" fill="#ea7a75"/>
<rect x="554.51" y="186.68" width="35.59" height="13.8" fill="#add8e6"/>
<rect x="452.9" y="204.3" width="90" height="13.8" fill="#ea7a75"/>
<rect x="542.9" y="204.3" width="47.2" height="13.8" fill="#add8e6"/>
<rect x="452.9" y="221.92" width="98.55" height="13.8" fill="#ea7a75"/>
<rect x="551.45" y="221.92" width="38.65" height="13.8" fill="#add8e6"/>
<rect x="452.9" y="239.54" width="96.75" height="13.8" fill="#ea7a75"/>
<rect x="549.65" y="239.54" width="40.45" height="13.8" fill="#add8e6"/>
<rect x="452.9" y="257.16" width="89.32" height="13.8" fill="#ea7a75"/>
<rect x="542.22" y="257.16" width="47.88" height="13.8" fill="#add8e6"/>
<rect x="452.9" y="274.78" width="95.53" height="13.8" fill="#ea7a75"/>
<rect x="548.43" y="274.78" width="41.67" height="13.8" fill="#add8e6"/>
<rect x="452.9" y="292.4" width="112.6" height="13.8" fill="#ea7a75"/>
<rect x="565.5" y="292.4" width="24.6" height="13.8" fill="#add8e6"/>
<rect x="452.9" y="310.02" width="99.98" height="13.8" fill="#ea7a75"/>
<rect x="552.88" y="310.02" width="37.22" height="13.8" fill="#add8e6"/>
<rect x="452.9" y="327.64" width="98.25" height="13.8" fill="#ea7a75"/>
<rect x="551.15" y="327.64" width="38.95" height="13.8" fill="#add8e6"/>
<rect x="452.9" y="345.26" width="91.86" height="13.8" fill="#ea7a75"/>
<rect x="544.76" y="345.26" width="45.34" height="13.8" fill="#add8e6"/>
<text x="497.16" y="127.2" font-size="10.8" fill="#1a1a1a">69.74</text>
<text x="551.33" y="127.2" font-size="10.8" fill="#1a1a1a">30.26</text>
<text x="497.42" y="144.82" font-size="10.8" fill="#1a1a1a">69.55</text>
<text x="551.07" y="144.82" font-size="10.8" fill="#1a1a1a">30.45</text>
<text x="490.84" y="162.44" font-size="10.8" fill="#1a1a1a">74.35</text>
<text x="557.65" y="162.44" font-size="10.8" fill="#1a1a1a">25.65</text>
<text x="494.62" y="180.06" font-size="10.8" fill="#1a1a1a">71.59</text>
<text x="553.87" y="180.06" font-size="10.8" fill="#1a1a1a">28.41</text>
<text x="491.23" y="197.68" font-size="10.8" fill="#1a1a1a">74.06</text>
<text x="557.25" y="197.68" font-size="10.8" fill="#1a1a1a">25.94</text>
<text x="502.84" y="215.3" font-size="10.8" fill="#1a1a1a">65.6</text>
<text x="545.65" y="215.3" font-size="10.8" fill="#1a1a1a">34.4</text>
<text x="494.29" y="232.92" font-size="10.8" fill="#1a1a1a">71.83</text>
<text x="554.19" y="232.92" font-size="10.8" fill="#1a1a1a">28.17</text>
<text x="496.09" y="250.54" font-size="10.8" fill="#1a1a1a">70.52</text>
<text x="552.4" y="250.54" font-size="10.8" fill="#1a1a1a">29.48</text>
<text x="503.53" y="268.16" font-size="10.8" fill="#1a1a1a">65.1</text>
<text x="544.96" y="268.16" font-size="10.8" fill="#1a1a1a">34.9</text>
<text x="497.31" y="285.78" font-size="10.8" fill="#1a1a1a">69.63</text>
<text x="551.18" y="285.78" font-size="10.8" fill="#1a1a1a">30.37</text>
<text x="480.24" y="303.4" font-size="10.8" fill="#1a1a1a">82.07</text>
<text x="568.24" y="303.4" font-size="10.8" fill="#1a1a1a">17.93</text>
<text x="492.87" y="321.02" font-size="10.8" fill="#1a1a1a">72.87</text>
<text x="555.62" y="321.02" font-size="10.8" fill="#1a1a1a">27.13</text>
<text x="494.6" y="338.64" font-size="10.8" fill="#1a1a1a">71.61</text>
<text x="553.89" y="338.64" font-size="10.8" fill="#1a1a1a">28.39</text>
<text x="500.99" y="356.26" font-size="10.8" fill="#1a1a1a">66.95</text>
<text x="547.5" y="356.26" font-size="10.8" fill="#1a1a1a">33.05</text>
<rect x="446.3" y="113.3" width="150.1" height="249.1" fill="none" stroke="#505050" stroke-width="0.9"/>
<line x1="452.9" x2="452.9" y1="362.4" y2="366.6" stroke="#3a3a3a" stroke-width="1.3"/>
<text x="452.9" y="378.6" font-size="12" fill="#4d4d4d" text-anchor="middle">0</text>
<line x1="487.2" x2="487.2" y1="362.4" y2="366.6" stroke="#3a3a3a" stroke-width="1.3"/>
<text x="487.2" y="378.6" font-size="12" fill="#4d4d4d" text-anchor="middle">25</text>
<line x1="521.5" x2="521.5" y1="362.4" y2="366.6" stroke="#3a3a3a" stroke-width="1.3"/>
<text x="521.5" y="378.6" font-size="12" fill="#4d4d4d" text-anchor="middle">50</text>
<line x1="555.8" x2="555.8" y1="362.4" y2="366.6" stroke="#3a3a3a" stroke-width="1.3"/>
<text x="555.8" y="378.6" font-size="12" fill="#4d4d4d" text-anchor="middle">75</text>
<line x1="590.1" x2="590.1" y1="362.4" y2="366.6" stroke="#3a3a3a" stroke-width="1.3"/>
<text x="590.1" y="378.6" font-size="12" fill="#4d4d4d" text-anchor="middle">100</text>
<text x="509.6" y="406.9" font-size="14.7" fill="#000">TE</text>
<text x="467.2" y="423.9" font-size="15" fill="#000" textLength="113.1" lengthAdjust="spacing">Contribution (%)</text>
</g>
<g id="legend">
<text x="604.6" y="122.2" font-size="13.5" font-weight="bold" fill="#000">Feature type</text>
<rect x="606.2" y="132.4" width="13.6" height="13" fill="#add8e6"/>
<rect x="606.2" y="148.9" width="13.6" height="13" fill="#ea7a75"/>
<text x="629.6" y="143.1" font-size="12" fill="#000">TE</text>
<text x="629.6" y="159.8" font-size="12" fill="#000">Var</text>
<rect x="605.6" y="182.6" width="13.5" height="13.4" fill="#b3b3b3"/>
<text x="627.4" y="193.7" font-size="12" fill="#000">NA</text>
<defs><linearGradient id="cb" gradientUnits="userSpaceOnUse" x1="0" x2="0" y1="350.7" y2="206.74">
<stop offset="0.0000" stop-color="#f7fbff"/>
<stop offset="0.1163" stop-color="#deecf7"/>
<stop offset="0.2326" stop-color="#a8d3e6"/>
<stop offset="0.3488" stop-color="#76b1d5"/>
<stop offset="0.3837" stop-color="#9dc8d5"/>
<stop offset="0.4070" stop-color="#b0d2d0"/>
<stop offset="0.4302" stop-color="#cce2d0"/>
<stop offset="0.4465" stop-color="#dcecc8"/>
<stop offset="0.4651" stop-color="#f2ffc2"/>
<stop offset="0.5814" stop-color="#f0b070"/>
<stop offset="0.6977" stop-color="#f06a42"/>
<stop offset="0.8140" stop-color="#d02828"/>
<stop offset="0.8721" stop-color="#ad182c"/>
<stop offset="0.9302" stop-color="#8f0e22"/>
<stop offset="0.9767" stop-color="#7a0816"/>
<stop offset="1.0000" stop-color="#6c0612"/>
</linearGradient></defs>
<rect x="607.1" y="210.9" width="11.1" height="137.6" fill="url(#cb)"/>
<text x="625.8" y="354.9" font-size="12" fill="#000">0.0</text>
<line x1="607.1" x2="618.2" y1="333.96" y2="333.96" stroke="#ffffff" stroke-width="0.7" stroke-opacity="0.85"/>
<text x="625.8" y="338.16" font-size="12" fill="#000">0.5</text>
<line x1="607.1" x2="618.2" y1="317.22" y2="317.22" stroke="#ffffff" stroke-width="0.7" stroke-opacity="0.85"/>
<text x="625.8" y="321.42" font-size="12" fill="#000">1.0</text>
<line x1="607.1" x2="618.2" y1="300.48" y2="300.48" stroke="#ffffff" stroke-width="0.7" stroke-opacity="0.85"/>
<text x="625.8" y="304.68" font-size="12" fill="#000">1.5</text>
<line x1="607.1" x2="618.2" y1="283.74" y2="283.74" stroke="#ffffff" stroke-width="0.7" stroke-opacity="0.85"/>
<text x="625.8" y="287.94" font-size="12" fill="#000">2.0</text>
<line x1="607.1" x2="618.2" y1="267" y2="267" stroke="#ffffff" stroke-width="0.7" stroke-opacity="0.85"/>
<text x="625.8" y="271.2" font-size="12" fill="#000">2.5</text>
<line x1="607.1" x2="618.2" y1="250.26" y2="250.26" stroke="#ffffff" stroke-width="0.7" stroke-opacity="0.85"/>
<text x="625.8" y="254.46" font-size="12" fill="#000">3.0</text>
<line x1="607.1" x2="618.2" y1="233.52" y2="233.52" stroke="#ffffff" stroke-width="0.7" stroke-opacity="0.85"/>
<text x="625.8" y="237.72" font-size="12" fill="#000">3.5</text>
<line x1="607.1" x2="618.2" y1="216.78" y2="216.78" stroke="#ffffff" stroke-width="0.7" stroke-opacity="0.85"/>
<text x="625.8" y="220.98" font-size="12" fill="#000">4.0</text>
<text transform="translate(654.1,209.6) rotate(90)" font-size="13.3" fill="#000" textLength="143.8" lengthAdjust="spacing">Absolute value of SHAP</text>
</g>
</svg>
</body>
</html>
